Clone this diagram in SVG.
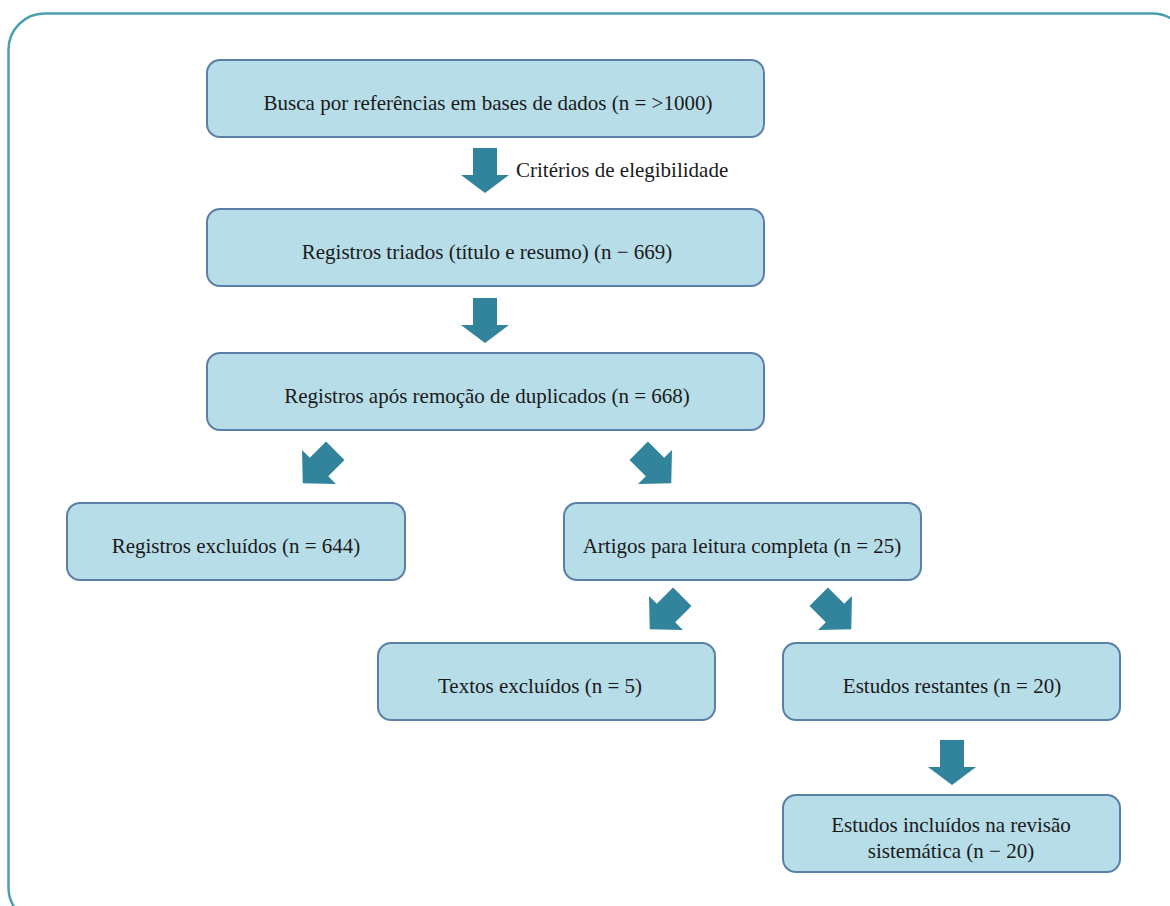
<svg xmlns="http://www.w3.org/2000/svg" width="1170" height="906" viewBox="0 0 1170 906">
  <style>
    .box { fill: #B7DDE8; stroke: #5A7FA8; stroke-width: 2; }
    .frame { fill: #FFFFFF; stroke: #4A9EAE; stroke-width: 2.5; }
    .arr { fill: #31849B; }
    .t { font-family: "Liberation Serif", "DejaVu Serif", "Times New Roman", serif; font-size: 21px; fill: #1A1A1A; text-anchor: middle; }
    .tl { font-family: "Liberation Serif", "DejaVu Serif", "Times New Roman", serif; font-size: 21px; fill: #1A1A1A; }
  </style>
  <defs>
    <polygon id="down" points="-12,-22 12,-22 12,5 24,5 0,23 -24,5 -12,5"/>
    <polygon id="diag" points="-13,-23 13,-23 13,0 24,0 0,23 -24,0 -13,0"/>
  </defs>
  <rect width="1170" height="906" fill="#FFFFFF"/>
  <rect class="frame" x="8.5" y="13.5" width="1180" height="910" rx="36" ry="36"/>

  <g id="connectors">
    <use href="#down" class="arr" transform="translate(485,170)"/>
    <use href="#down" class="arr" transform="translate(485,320)"/>
    <use href="#diag" class="arr" transform="translate(319,467) rotate(45)"/>
    <use href="#diag" class="arr" transform="translate(655,467) rotate(-45)"/>
    <use href="#diag" class="arr" transform="translate(666,613) rotate(45)"/>
    <use href="#diag" class="arr" transform="translate(835,613) rotate(-45)"/>
    <use href="#down" class="arr" transform="translate(952,762)"/>
    <text class="tl" x="516" y="177">Critérios de elegibilidade</text>
  </g>

  <g id="n1">
    <rect class="box" x="207" y="60" width="557" height="77" rx="13"/>
    <text class="t" x="488" y="110">Busca por referências em bases de dados (n = &gt;1000)</text>
  </g>
  <g id="n2">
    <rect class="box" x="207" y="209" width="557" height="77" rx="13"/>
    <text class="t" x="487" y="259">Registros triados (título e resumo) (n − 669)</text>
  </g>
  <g id="n3">
    <rect class="box" x="207" y="353" width="557" height="77" rx="13"/>
    <text class="t" x="487" y="403">Registros após remoção de duplicados (n = 668)</text>
  </g>
  <g id="n4">
    <rect class="box" x="67" y="503" width="338" height="77" rx="13"/>
    <text class="t" x="236" y="553">Registros excluídos (n = 644)</text>
  </g>
  <g id="n5">
    <rect class="box" x="564" y="503" width="357" height="77" rx="13"/>
    <text class="t" x="742" y="553">Artigos para leitura completa (n = 25)</text>
  </g>
  <g id="n6">
    <rect class="box" x="378" y="643" width="337" height="77" rx="13"/>
    <text class="t" x="540" y="693">Textos excluídos (n = 5)</text>
  </g>
  <g id="n7">
    <rect class="box" x="783" y="643" width="337" height="77" rx="13"/>
    <text class="t" x="952" y="693">Estudos restantes (n = 20)</text>
  </g>
  <g id="n8">
    <rect class="box" x="783" y="795" width="337" height="77" rx="13"/>
    <text class="t" x="951" y="832">Estudos incluídos na revisão</text>
    <text class="t" x="951" y="858">sistemática (n − 20)</text>
  </g>
</svg>
